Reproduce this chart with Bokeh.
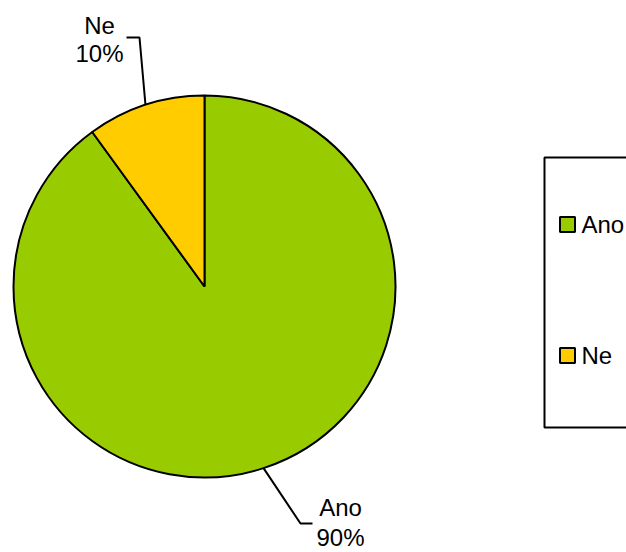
import math
from bokeh.plotting import figure
from bokeh.models import Range1d
from bokeh.core.properties import value
from bokeh.embed import file_html
from bokeh.resources import INLINE

# ---- data ----
categories = ["Ano", "Ne"]
values = [90, 10]
colors = ["#99CC00", "#FFCC00"]
pct_labels = ["90%", "10%"]

W, H = 626, 552
FONT = "Liberation Sans"
FS = "24px"

p = figure(width=W, height=H, output_backend="svg", toolbar_location=None,
           x_range=Range1d(0, W), y_range=Range1d(0, H), min_border=0)
p.axis.visible = False
p.grid.visible = False
p.outline_line_color = None
p.background_fill_color = "white"
p.border_fill_color = "white"

def Y(py):
    return H - py

# ---- pie ----
cx, cy, r = 204, Y(286), 191
total = sum(values)
start = math.pi / 2
starts, ends, mids = [], [], []
for v in values:
    a = v / total * 2 * math.pi
    starts.append(start)
    ends.append(start - a)
    mids.append(start - a / 2)
    start -= a

p.wedge(x=[cx] * len(values), y=[cy] * len(values), radius=r,
        start_angle=starts, end_angle=ends, direction="clock",
        fill_color=colors, line_color="black", line_width=2)

# ---- data labels with leader lines ----
label_pos = {"Ano": (340, 507, 537, (300, 523), (312, 523)),
             "Ne": (99, 25, 53, (139, 37), (126, 37))}
for cat, pct, m in zip(categories, pct_labels, mids):
    tx, y1, y2, elbow, end = label_pos[cat]
    sx = cx + r * math.cos(m)
    sy = cy + r * math.sin(m)
    p.line([sx, elbow[0], end[0]], [sy, Y(elbow[1]), Y(end[1])],
           line_color="black", line_width=2)
    p.text(x=[tx, tx], y=[Y(y1), Y(y2)], text=[cat, pct],
           text_font=value(FONT), text_font_size=FS,
           text_align="center", text_baseline="middle", text_color="black")

# ---- legend ----
p.quad(left=[544], right=[660], top=[Y(157)], bottom=[Y(427)],
       fill_color="white", line_color="black", line_width=2)
leg_y = [224, 355]
p.rect(x=[567] * 2, y=[Y(v) for v in leg_y], width=15, height=15,
       fill_color=colors, line_color="black", line_width=2)
p.text(x=[581] * 2, y=[Y(v) for v in leg_y], text=categories,
       text_font=value(FONT), text_font_size=FS,
       text_align="left", text_baseline="middle", text_color="black")

open("out.html", "w").write(file_html(p, INLINE))
